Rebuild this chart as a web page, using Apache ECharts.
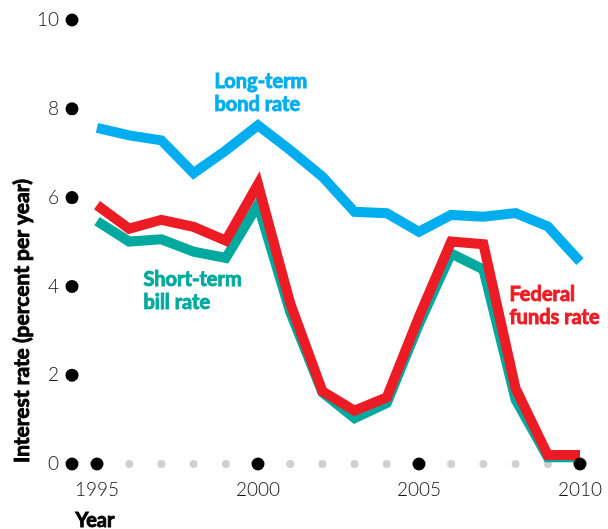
<!DOCTYPE html>
<html><head><meta charset="utf-8">
<script src="https://cdn.jsdelivr.net/npm/echarts@6/dist/echarts.min.js"></script>
<style>html,body{margin:0;padding:0;background:#fff}#c{width:608px;height:529px}</style>
</head><body><div id="c"></div>
<script>
const years = [1995,1996,1997,1998,1999,2000,2001,2002,2003,2004,2005,2006,2007,2008,2009,2010];
const longTermBond = [7.57,7.40,7.29,6.55,7.06,7.63,7.07,6.47,5.68,5.65,5.23,5.61,5.57,5.65,5.35,4.56];
const federalFunds = [5.83,5.30,5.50,5.34,5.03,6.30,3.62,1.64,1.20,1.50,3.32,5.01,4.95,1.70,0.20,0.20];
const shortTermBill = [5.47,5.01,5.06,4.78,4.64,5.84,3.42,1.61,1.03,1.37,3.15,4.74,4.38,1.45,0.15,0.15];
const yTicks = [0,2,4,6,8,10];
const xLabelYears = [1995,2000,2005,2010];
const xMin = 1994.224, xMax = 2010;

const pair = (vals) => years.map((y,i)=>[y, vals[i]]);
const heavy = (text, color, size) => ({text, fill: color, stroke: color, lineWidth: 0.9,
  font: 'bold ' + size + 'px Lato', lineHeight: 23});
const chart = echarts.init(document.getElementById('c'));
chart.setOption({
  animation: false,
  backgroundColor: '#fff',
  grid: {left: 72, right: 28, top: 20, bottom: 65, containLabel: false},
  xAxis: {
    type: 'value', min: xMin, max: xMax,
    axisLine: {show: false}, axisTick: {show: false}, splitLine: {show: false},
    axisLabel: {customValues: xLabelYears, margin: 16, fontFamily: 'Lato', fontWeight: 300, fontSize: 19, color: '#111',
      formatter: v => String(Math.round(v))}
  },
  yAxis: {
    type: 'value', min: 0, max: 10, interval: 2,
    axisLine: {show: false}, axisTick: {show: false}, splitLine: {show: false},
    axisLabel: {margin: 13, fontFamily: 'Lato', fontWeight: 300, fontSize: 19, color: '#111'}
  },
  series: [
    {type: 'scatter', silent: true, z: 1, symbolSize: 8, itemStyle: {color: '#d3cdd4', opacity: 1},
      data: years.filter(y => !xLabelYears.includes(y)).map(y => [y, 0])},
    {type: 'line', z: 3, data: pair(shortTermBill), showSymbol: false, clip: false,
      lineStyle: {color: '#00a99d', width: 10, join: 'miter', cap: 'butt'}},
    {type: 'line', z: 4, data: pair(federalFunds), showSymbol: false, clip: false,
      lineStyle: {color: '#ed1c24', width: 10, join: 'miter', cap: 'butt'}},
    {type: 'line', z: 4, data: pair(longTermBond), showSymbol: false, clip: false,
      lineStyle: {color: '#00aeef', width: 10, join: 'miter', cap: 'butt'}},
    {type: 'scatter', silent: true, z: 6, symbolSize: 13, itemStyle: {color: '#000', opacity: 1},
      data: yTicks.map(v => [xMin, v]).concat(xLabelYears.map(y => [y, 0]))}
  ],
  graphic: [
    {type: 'text', left: 214, top: 70, style: heavy('Long-term\nbond rate', '#00aeef', 20)},
    {type: 'text', left: 143, top: 268, style: heavy('Short-term\nbill rate', '#00a99d', 20)},
    {type: 'text', left: 509, top: 283, style: heavy('Federal\nfunds rate', '#ed1c24', 20)},
    {type: 'text', left: 75, top: 509, style: heavy('Year', '#000', 20)},
    {type: 'text', x: 22, y: 321, rotation: Math.PI/2,
      style: Object.assign(heavy('Interest rate (percent per year)', '#000', 21), {align: 'center', verticalAlign: 'middle'})}
  ]
});
</script>
</body></html>
